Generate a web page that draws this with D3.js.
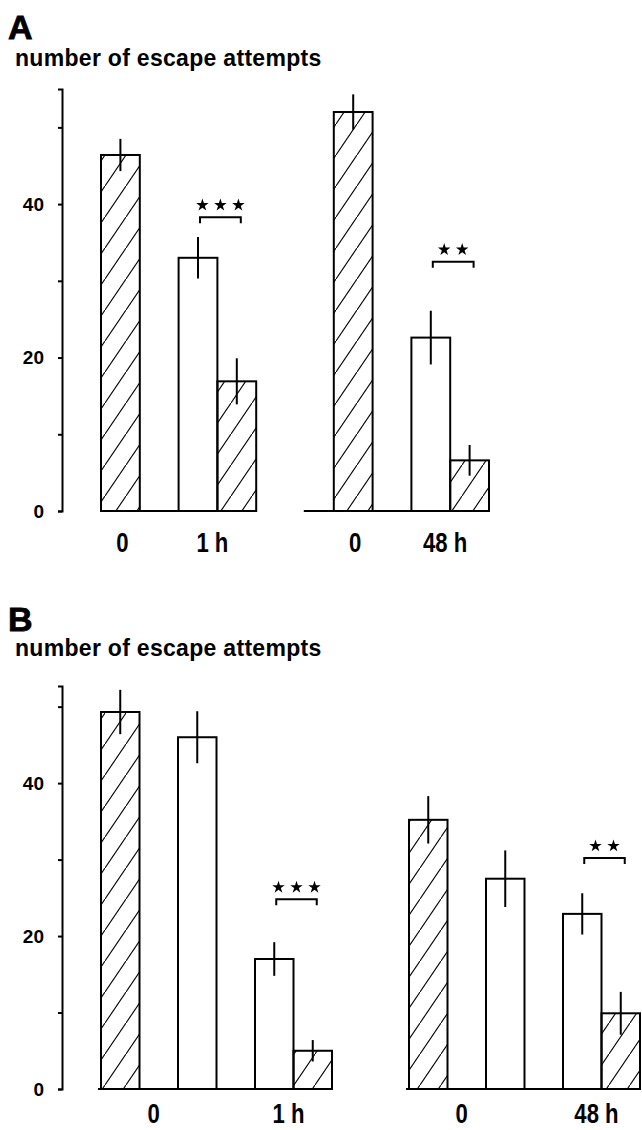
<!DOCTYPE html>
<html>
<head>
<meta charset="utf-8">
<script src="https://cdn.jsdelivr.net/npm/d3@7"></script>
<style>
  html, body { margin: 0; padding: 0; background: #fff; }
  svg { display: block; }
</style>
</head>
<body>
<div id="chart"></div>
<script>
// ---------- DATA ----------
const yTickValues = [0, 10, 20, 30, 40, 50];
const yTickLabels = ["0", "", "20", "", "40", ""];
const yTitle = "number of escape attempts";

// Panel A
const categoriesA = ["0 (1 h)", "1 h control", "1 h test", "0 (48 h)", "48 h control", "48 h test"];
const valuesA = [46.4, 33.0, 16.9, 52.0, 22.6, 6.6];
const errorsA = [2.1, 2.7, 3.0, 2.3, 3.5, 2.0];
const kindA = ["hatched", "open", "hatched", "hatched", "open", "hatched"];
const xLabelsA = ["0", "1 h", "0", "48 h"];
const xLabelBarsA = [[0], [1, 2], [3], [4, 5]];
const sigPairsA = [[1, 2], [4, 5]];
const sigStarsA = [3, 2];
const sigLevelA = [38.3, 32.5];

// Panel B
const categoriesB = ["0 a (1 h)", "0 b (1 h)", "1 h control", "1 h test", "0 a (48 h)", "0 b (48 h)", "48 h control", "48 h test"];
const valuesB = [49.3, 46.0, 17.0, 5.0, 35.2, 27.5, 22.9, 9.9];
const errorsB = [2.9, 3.4, 2.2, 1.4, 3.1, 3.7, 2.7, 2.8];
const kindB = ["hatched", "open", "open", "hatched", "hatched", "open", "open", "hatched"];
const xLabelsB = ["0", "1 h", "0", "48 h"];
const xLabelBarsB = [[0, 1], [2, 3], [4, 5], [6, 7]];
const sigPairsB = [[2, 3], [6, 7]];
const sigStarsB = [3, 2];
const sigLevelB = [24.8, 30.2];

// ---------- LAYOUT ----------
const W = 642, H = 1130;
const svg = d3.select("#chart").append("svg").attr("width", W).attr("height", H);

const defs = svg.append("defs");
const pw = 21, ph = 31;
defs.append("pattern")
  .attr("id", "hatch")
  .attr("patternUnits", "userSpaceOnUse")
  .attr("width", pw).attr("height", ph)
  .append("path")
  .attr("d", `M${-1},${ph + ph / pw} L${pw + 1},${-ph / pw}`)
  .attr("stroke", "#000").attr("stroke-width", 1.1).attr("fill", "none");

const FONT = "'Liberation Sans', Arial, Helvetica, sans-serif";

function drawPanel(cfg) {
  const g = svg.append("g");
  // panel letter
  g.append("text").attr("x", 8).attr("y", cfg.letterY)
    .attr("font-family", FONT).attr("font-weight", "bold").attr("font-size", 34)
    .attr("stroke", "#000").attr("stroke-width", 0.8)
    .text(cfg.letter);
  // y title
  g.append("text").attr("x", 15).attr("y", cfg.titleY)
    .attr("font-family", FONT).attr("font-weight", "bold").attr("font-size", 23)
    .attr("letter-spacing", 0.3)
    .text(yTitle);

  const y = d3.scaleLinear().domain([0, cfg.yMax]).range([cfg.y0, cfg.yTop]);
  const x = d3.scaleBand().domain(cfg.slots).range([cfg.x0, cfg.x1]).paddingInner(0).paddingOuter(0);
  const bw = x.bandwidth();
  const cx = i => x(cfg.cats[i]) + bw / 2;

  // y axis
  const axis = d3.axisLeft(y).tickValues(yTickValues).tickSize(4).tickSizeOuter(4).tickPadding(14)
    .tickFormat((d, i) => yTickLabels[i]);
  const ag = g.append("g").attr("transform", `translate(${cfg.axisX},0)`).call(axis);
  ag.attr("font-family", FONT).attr("font-size", 19).attr("font-weight", "bold");
  ag.selectAll("path, line").attr("stroke", "#000").attr("stroke-width", 2);

  // baselines
  cfg.baseGroups.forEach(([a, b, ext]) => {
    g.append("line")
      .attr("x1", x(cfg.cats[a]) - (ext || 0)).attr("x2", x(cfg.cats[b]) + bw)
      .attr("y1", y(0)).attr("y2", y(0))
      .attr("stroke", "#000").attr("stroke-width", 2);
  });

  // bars
  g.selectAll("rect.bar").data(cfg.values).join("rect")
    .attr("class", "bar")
    .attr("x", (d, i) => x(cfg.cats[i]))
    .attr("y", d => y(d))
    .attr("width", bw)
    .attr("height", d => y(0) - y(d))
    .attr("fill", (d, i) => cfg.kind[i] === "hatched" ? "url(#hatch)" : "#fff")
    .attr("stroke", "#000").attr("stroke-width", 2);

  // error bars
  g.selectAll("line.err").data(cfg.values).join("line")
    .attr("class", "err")
    .attr("x1", (d, i) => cx(i)).attr("x2", (d, i) => cx(i))
    .attr("y1", (d, i) => y(d + cfg.errors[i]))
    .attr("y2", (d, i) => y(d - cfg.errors[i]))
    .attr("stroke", "#000").attr("stroke-width", 2);

  // significance brackets
  const star = d3.symbol().type(d3.symbolStar).size(48);
  cfg.sigPairs.forEach(([a, b], k) => {
    const yy = y(cfg.sigLevel[k]);
    const xa = cx(a) + 2, xb = cx(b) + 4;
    g.append("path")
      .attr("d", `M${xa},${yy + 6}V${yy}H${xb}V${yy + 6}`)
      .attr("fill", "none").attr("stroke", "#000").attr("stroke-width", 2);
    const n = cfg.sigStars[k], mid = (xa + xb) / 2, sp = 18;
    for (let s = 0; s < n; s++) {
      g.append("path").attr("d", star)
        .attr("transform", `translate(${mid + (s - (n - 1) / 2) * sp},${yy - 12})`)
        .attr("fill", "#000");
    }
  });

  // x labels
  cfg.xLabels.forEach((lab, k) => {
    const idx = cfg.xLabelBars[k];
    const xm = d3.mean(idx, i => cx(i)) + (idx.length > 1 ? -5 : 2);
    g.append("text")
      .attr("transform", `translate(${xm},${cfg.labelY}) scale(0.82,1)`)
      .attr("text-anchor", "middle")
      .attr("font-family", FONT).attr("font-weight", "bold").attr("font-size", 27)
      .text(lab);
  });
}

drawPanel({
  letter: "A", letterY: 39, titleY: 66,
  yMax: 55, y0: 511, yTop: 89, axisX: 62,
  x0: 101, x1: 489,
  slots: [categoriesA[0], "_g1", categoriesA[1], categoriesA[2], "_g2", "_g3", categoriesA[3], "_g4", categoriesA[4], categoriesA[5]],
  cats: categoriesA, values: valuesA, errors: errorsA, kind: kindA,
  baseGroups: [[0, 2, 0], [3, 5, 30]],
  sigPairs: sigPairsA, sigStars: sigStarsA, sigLevel: sigLevelA,
  xLabels: xLabelsA, xLabelBars: xLabelBarsA, labelY: 552
});

drawPanel({
  letter: "B", letterY: 631, titleY: 656,
  yMax: 52.7, y0: 1089, yTop: 686, axisX: 62,
  x0: 101, x1: 640,
  slots: [categoriesB[0], "_g1", categoriesB[1], "_g2", categoriesB[2], categoriesB[3], "_g3", "_g4", categoriesB[4], "_g5", categoriesB[5], "_g6", categoriesB[6], categoriesB[7]],
  cats: categoriesB, values: valuesB, errors: errorsB, kind: kindB,
  baseGroups: [[0, 3, 3], [4, 7, 3]],
  sigPairs: sigPairsB, sigStars: sigStarsB, sigLevel: sigLevelB,
  xLabels: xLabelsB, xLabelBars: xLabelBarsB, labelY: 1123
});
</script>
</body>
</html>
